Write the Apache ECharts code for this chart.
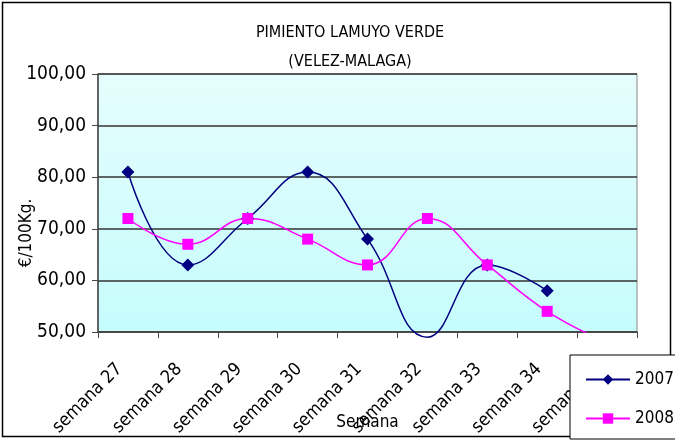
<!DOCTYPE html>
<html>
<head>
<meta charset="utf-8">
<script src="https://cdn.jsdelivr.net/npm/echarts@6/dist/echarts.min.js"></script>
<style>
  html, body { margin: 0; padding: 0; background: #fff; }
  #chart { width: 675px; height: 440px; }
</style>
</head>
<body>
<div id="chart"></div>
<script>
var semanas = ['semana 27', 'semana 28', 'semana 29', 'semana 30', 'semana 31', 'semana 32', 'semana 33', 'semana 34', 'semana 35'];
var precios2007 = [81, 63, 72, 81, 68, 49, 63, 58, null];
var precios2008 = [72, 67, 72, 68, 63, 72, 63, 54, 48];
var yMin = 50, yMax = 100, yStep = 10;

var fuente = '"DejaVu Sans Condensed", "Liberation Sans Narrow", "Arial Narrow", sans-serif';

var myChart = echarts.init(document.getElementById('chart'));
var option = {
    backgroundColor: '#fff',
    textStyle: { fontFamily: fuente, color: '#000' },
    animation: false,
    title: {
        text: 'PIMIENTO LAMUYO VERDE\n(VELEZ-MALAGA)',
        left: 345,
        top: 13,
        textAlign: 'center',
        textStyle: { fontFamily: fuente, fontSize: 16, fontWeight: 'normal', color: '#000', lineHeight: 29 }
    },
    graphic: [{
        type: 'rect',
        shape: { x: 2.5, y: 2.5, width: 668, height: 434 },
        style: { fill: 'none', stroke: '#000', lineWidth: 1.5 },
        z: -1
    }],
    legend: {
        orient: 'vertical',
        left: 570,
        top: 355,
        height: 120,
        padding: [16, 20, 12, 15],
        itemGap: 22,
        itemWidth: 44,
        itemHeight: 13,
        backgroundColor: '#fff',
        borderColor: '#000',
        borderWidth: 1,
        textStyle: { fontFamily: fuente, fontSize: 17, color: '#000' },
        data: ['2007', '2008']
    },
    grid: {
        left: 98,
        right: 38,
        top: 74,
        bottom: 108,
        outerBoundsMode: 'none',
        containLabel: false,
        show: true,
        borderColor: '#888',
        borderWidth: 1,
        backgroundColor: new echarts.graphic.LinearGradient(0, 0, 0, 1, [
            { offset: 0, color: '#e6fdfd' },
            { offset: 1, color: '#c6fcfc' }
        ])
    },
    xAxis: {
        type: 'category',
        data: semanas,
        boundaryGap: true,
        name: 'Semana',
        nameLocation: 'middle',
        nameGap: 82,
        nameMoveOverlap: false,
        nameTextStyle: { fontFamily: fuente, fontSize: 17, color: '#000' },
        axisLine: { lineStyle: { color: '#444', width: 1.5 } },
        axisTick: { show: true, length: 6, lineStyle: { color: '#444' } },
        axisLabel: {
            rotate: 45, margin: 26, fontSize: 18, color: '#000', fontFamily: fuente,
            interval: 0, padding: [0, 12, 0, 0]
        }
    },
    yAxis: {
        type: 'value',
        min: yMin,
        max: yMax,
        interval: yStep,
        name: '€/100Kg.',
        nameLocation: 'middle',
        nameGap: 63,
        nameMoveOverlap: false,
        nameTextStyle: { fontFamily: fuente, fontSize: 17, color: '#000', padding: [0, 60, 0, 0] },
        axisLine: { show: true, lineStyle: { color: '#444', width: 1.5 } },
        axisTick: { show: true, length: 6, lineStyle: { color: '#444' } },
        axisLabel: {
            fontSize: 19,
            color: '#000',
            margin: 12,
            fontFamily: fuente,
            formatter: function (v) { return v.toFixed(2).replace('.', ','); }
        },
        splitLine: { lineStyle: { color: '#333', width: 1.5 } }
    },
    series: [
        {
            name: '2007',
            type: 'line',
            data: precios2007,
            smooth: 0.45,
            symbol: 'diamond',
            symbolSize: function (v) { return v < yMin ? 0 : 13; },
            color: '#000080',
            lineStyle: { width: 1.5, color: '#000080' },
            clip: false
        },
        {
            name: '2008',
            type: 'line',
            data: precios2008,
            smooth: 0.45,
            symbol: 'rect',
            symbolSize: 11,
            color: '#ff00ff',
            lineStyle: { width: 1.5, color: '#ff00ff' },
            clip: true
        }
    ]
};
option && myChart.setOption(option);
</script>
</body>
</html>
